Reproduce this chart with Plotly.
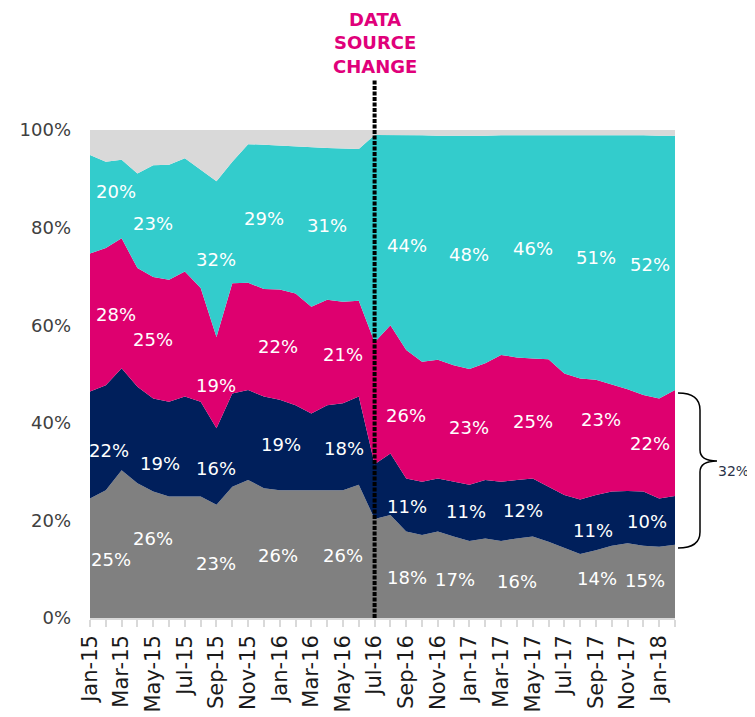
import plotly.graph_objects as go

# ---------------- data ----------------
months = ["Jan-15", "Feb-15", "Mar-15", "Apr-15", "May-15", "Jun-15", "Jul-15", "Aug-15",
          "Sep-15", "Oct-15", "Nov-15", "Dec-15", "Jan-16", "Feb-16", "Mar-16", "Apr-16",
          "May-16", "Jun-16", "Jul-16", "Aug-16", "Sep-16", "Oct-16", "Nov-16", "Dec-16",
          "Jan-17", "Feb-17", "Mar-17", "Apr-17", "May-17", "Jun-17", "Jul-17", "Aug-17",
          "Sep-17", "Oct-17", "Nov-17", "Dec-17", "Jan-18", "Feb-18"]

grey_vals = [24.5, 26.2, 30.3, 27.6, 25.9, 24.9, 24.9, 24.9, 23.2, 26.9, 28.3, 26.6, 26.2,
             26.2, 26.2, 26.2, 26.2, 27.3, 20.3, 21.1, 17.7, 17.0, 17.7, 16.7, 15.8, 16.3,
             15.8, 16.3, 16.7, 15.6, 14.4, 13.1, 13.9, 14.8, 15.3, 14.8, 14.6, 15.0]
navy_vals = [21.9, 21.5, 20.9, 19.8, 19.1, 19.4, 20.5, 19.4, 15.7, 19.1, 18.4, 18.8, 18.5,
             17.4, 15.7, 17.4, 17.8, 18.1, 11.2, 12.6, 10.9, 10.9, 10.9, 11.2, 11.5, 12.0,
             12.1, 12.0, 11.9, 11.3, 10.8, 11.2, 11.3, 11.1, 10.7, 11.1, 9.9, 10.0]
pink_vals = [28.3, 28.1, 26.6, 24.3, 24.9, 25.0, 25.6, 23.3, 18.7, 22.6, 22.0, 22.0, 22.6,
             22.9, 21.9, 21.6, 20.8, 19.6, 25.0, 26.3, 26.3, 24.6, 24.3, 23.9, 23.7, 23.9,
             26.0, 25.1, 24.6, 26.1, 24.9, 24.8, 23.6, 22.0, 20.9, 19.8, 20.5, 21.7]
teal_vals = [20.2, 17.7, 16.1, 19.4, 22.9, 23.6, 23.2, 24.2, 31.9, 24.9, 28.4, 29.6, 29.5,
             30.1, 32.6, 31.1, 31.4, 31.1, 42.5, 39.0, 44.0, 46.4, 45.9, 47.0, 47.7, 46.6,
             45.0, 45.5, 45.8, 46.0, 48.9, 49.9, 50.2, 51.1, 52.1, 53.2, 53.8, 52.1]
other_vals = [5.1, 6.5, 6.1, 8.9, 7.2, 7.1, 5.8, 8.2, 10.5, 6.5, 2.9, 3.0, 3.2, 3.4, 3.6,
              3.7, 3.8, 3.9, 1.0, 1.0, 1.1, 1.1, 1.2, 1.2, 1.3, 1.2, 1.1, 1.1, 1.0, 1.0,
              1.0, 1.0, 1.0, 1.0, 1.0, 1.1, 1.2, 1.2]

y_ticks = [0, 20, 40, 60, 80, 100]

# value labels (text) and where they sit (month index, % height)
label_texts = ["20%", "23%", "32%", "29%", "31%", "44%", "48%", "46%", "51%", "52%",
               "28%", "25%", "19%", "22%", "21%", "26%", "23%", "25%", "23%", "22%",
               "22%", "19%", "16%", "19%", "18%", "11%", "11%", "12%", "11%", "10%",
               "25%", "26%", "23%", "26%", "26%", "18%", "17%", "16%", "14%", "15%"]
label_x = [1.67, 4.0, 8.0, 11.0, 15.0, 20.06, 24.0, 28.0, 32.0, 35.45,
           1.63, 4.0, 8.0, 11.9, 16.0, 20.0, 24.0, 28.0, 32.3, 35.4,
           1.19, 4.43, 8.0, 12.05, 16.07, 20.06, 23.76, 27.4, 31.8, 35.2,
           1.35, 4.0, 8.0, 11.9, 16.0, 20.06, 23.06, 27.0, 32.07, 35.1]
label_y = [87.4, 80.9, 73.4, 81.8, 80.5, 76.4, 74.4, 75.8, 73.8, 72.5,
           62.1, 57.0, 47.7, 55.6, 53.9, 41.4, 39.1, 40.2, 40.6, 35.8,
           34.4, 31.7, 30.7, 35.5, 34.8, 22.8, 21.8, 22.1, 17.9, 19.7,
           11.9, 16.3, 11.2, 12.9, 12.9, 8.3, 7.9, 7.4, 8.1, 7.6]

change_month = "Jul-16"
bracket_text = "32%"

# ---------------- figure ----------------
OFF = 8  # page body margin offset
SW, SH = 755, 717
W, H = SW - OFF, SH - OFF
L, T = 90 - OFF, 130 - OFF
R = W - (675 - OFF)
B = H - (618 - OFF)
pw, ph = W - L - R, H - T - B

def px(xs):
    # screen x pixel -> paper coordinate
    return (xs - OFF - L) / pw

def py(ys):
    # screen y pixel -> paper coordinate
    return (H - B - (ys - OFF)) / ph

x = list(range(len(months)))
series = [
    ("Grey", grey_vals, "#808080"),
    ("Navy", navy_vals, "#001F5B"),
    ("Pink", pink_vals, "#DE006F"),
    ("Teal", teal_vals, "#33CCCC"),
    ("Other", other_vals, "#D9D9D9"),
]

fig = go.Figure()
for name, vals, col in series:
    fig.add_trace(go.Scatter(
        x=x, y=vals, name=name, mode="lines", stackgroup="one",
        line=dict(width=0, color=col), fillcolor=col, hoverinfo="skip",
    ))

annotations = []
for t, xx, yy in zip(label_texts, label_x, label_y):
    annotations.append(dict(x=xx, y=yy, xref="x", yref="y", text=t, showarrow=False,
                            xanchor="center", yanchor="middle",
                            font=dict(family="DejaVu Sans", size=18, color="white")))

annotations.append(dict(
    x=months.index(change_month), y=py(43), xref="x", yref="paper",
    text="<b>DATA<br>SOURCE<br>CHANGE</b>", showarrow=False,
    xanchor="center", yanchor="middle",
    font=dict(family="DejaVu Sans", size=18, color="#E0007A")))
annotations.append(dict(
    x=px(733), y=py(471), xref="paper", yref="paper", text=bracket_text,
    showarrow=False, xanchor="center", yanchor="middle",
    font=dict(family="DejaVu Sans", size=14, color="#2B3349")))

xc = months.index(change_month)
bracket = (f"M {px(678)},{py(393)} Q {px(700)},{py(393)} {px(700)},{py(410)} "
           f"L {px(700)},{py(450)} Q {px(700)},{py(461)} {px(717)},{py(461)} "
           f"Q {px(700)},{py(461)} {px(700)},{py(472)} L {px(700)},{py(532)} "
           f"Q {px(700)},{py(548)} {px(678)},{py(548)}")

shapes = [
    dict(type="line", xref="x", yref="paper", x0=xc, x1=xc, y0=0, y1=py(80),
         line=dict(color="black", width=4, dash="4px,1.5px")),
    dict(type="path", xref="paper", yref="paper", path=bracket,
         line=dict(color="black", width=1.5)),
    dict(type="line", xref="paper", yref="paper", x0=px(749), x1=px(749),
         y0=py(SH - 2), y1=py(OFF + 2), line=dict(color="#D0D0D0", width=2)),
]

tick_text = [m if i % 2 == 0 else "" for i, m in enumerate(months)]

fig.update_layout(
    width=W, height=H,
    margin=dict(l=L, r=R, t=T, b=B, autoexpand=False),
    paper_bgcolor="white", plot_bgcolor="white",
    showlegend=False,
    annotations=annotations, shapes=shapes,
    xaxis=dict(range=[0, len(months) - 1], tickmode="array", tickvals=x,
               ticktext=tick_text, tickangle=-90, ticks="outside", ticklen=7,
               tickcolor="#D9D9D9", tickwidth=1.5, showline=True,
               linecolor="#D9D9D9", linewidth=1.5, showgrid=False, zeroline=False,
               automargin=False,
               tickfont=dict(family="DejaVu Sans", size=21, color="#1a1a1a")),
    yaxis=dict(range=[0, 100], tickmode="array", tickvals=y_ticks,
               ticktext=[f"{v}%" for v in y_ticks], showgrid=False, zeroline=False,
               showline=False, ticks="", ticklabelstandoff=18, automargin=False,
               tickfont=dict(family="DejaVu Sans", size=18, color="#404040")),
)

fig.write_html("out.html")
